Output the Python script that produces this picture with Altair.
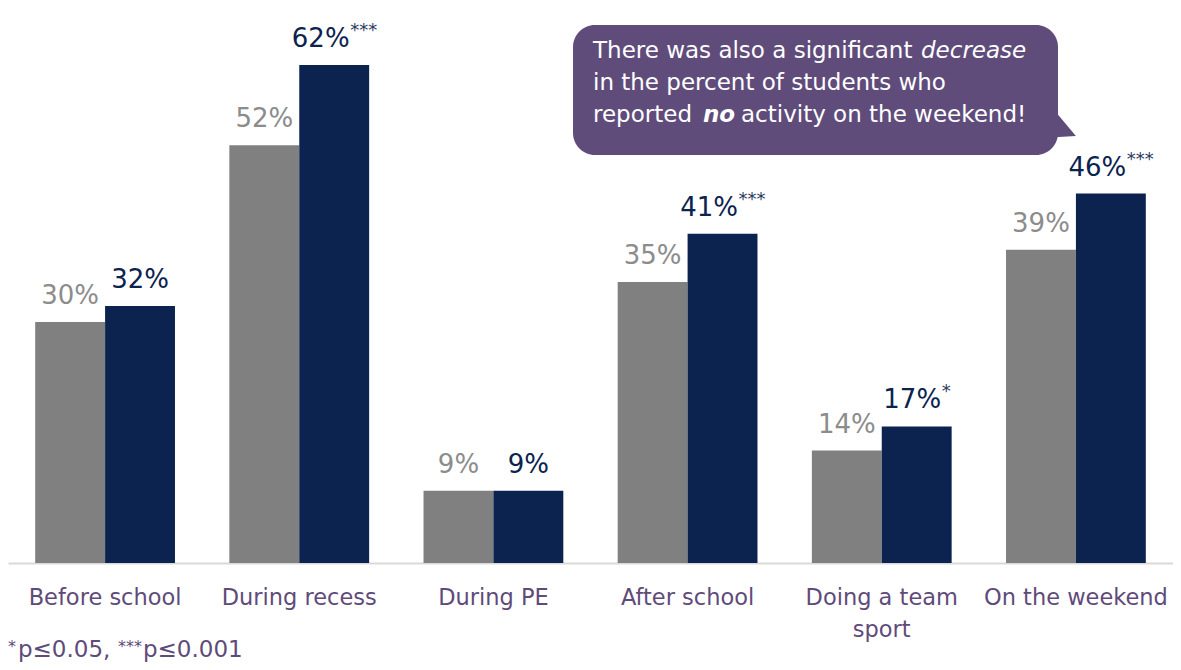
import altair as alt
import pandas as pd

categories = ["Before school", "During recess", "During PE", "After school",
              "Doing a team sport", "On the weekend"]
periods = ["Pre", "Post"]
pre_values = [30, 52, 9, 35, 14, 39]
post_values = [32, 62, 9, 41, 17, 46]
post_sig = ["", "***", "", "***", "*", "***"]

FONT = "DejaVu Sans"
PURPLE = "#5f4b7a"
NAVY = "#0c2350"
GRAY = "#808080"
GRAY_TXT = "#8c8c8c"
STAR = "#2a3a60"

rows = []
for c, a, b, s in zip(categories, pre_values, post_values, post_sig):
    rows.append({"category": c, "period": "Pre", "value": a, "label": f"{a}%", "sig": ""})
    rows.append({"category": c, "period": "Post", "value": b, "label": f"{b}%", "sig": s})
df = pd.DataFrame(rows)

label_expr = ("datum.value == 'Doing a team sport' ? ['Doing a team', 'sport'] : datum.value")

base = alt.Chart(df).encode(
    x=alt.X("category:N", sort=categories,
            scale=alt.Scale(paddingInner=0.28, paddingOuter=0.14),
            axis=alt.Axis(title=None, labelAngle=0, ticks=False, domainColor="#d9d9d9",
                          domainWidth=2, labelColor=PURPLE, labelFont=FONT, labelFontSize=22.5,
                          labelPadding=23, labelLineHeight=32, labelExpr=label_expr,
                          labelBaseline="top", labelLimit=400, labelOverlap=False)),
    xOffset=alt.XOffset("period:N", sort=periods,
                        scale=alt.Scale(paddingInner=0, paddingOuter=0)),
    y=alt.Y("value:Q", scale=alt.Scale(domain=[0, 69.1]), axis=None),
)

bars = base.mark_bar().encode(
    color=alt.Color("period:N", scale=alt.Scale(domain=periods, range=[GRAY, NAVY]), legend=None)
)

label_color = alt.condition(alt.datum.period == "Pre", alt.value(GRAY_TXT), alt.value(NAVY))


def value_labels(sig, dx):
    return base.transform_filter(alt.datum.sig == sig).mark_text(
        dx=dx, dy=-18, baseline="alphabetic", fontSize=26, font=FONT
    ).encode(text="label:N", color=label_color)


def star_labels(sig, dx):
    return base.transform_filter(alt.datum.sig == sig).mark_text(
        align="left", dx=dx, dy=-29, baseline="alphabetic", fontSize=18, font=FONT, color=STAR
    ).encode(text="sig:N")


labels = [value_labels("", 0), value_labels("***", -13.5), value_labels("*", -4.5)]
stars = [star_labels("***", 16), star_labels("*", 25)]

one = pd.DataFrame({"k": [0]})
CALLOUT = "#604c7b"
box = alt.Chart(one).mark_rect(cornerRadius=22, color=CALLOUT).encode(
    x=alt.value(565), x2=alt.value(1050), y=alt.value(17), y2=alt.value(147)
)
tail = alt.Chart(one).mark_point(
    filled=True, shape="M-1,-1 L0.6,0.907 L-1,1 Z", size=1849, color=CALLOUT, opacity=1,
    strokeWidth=0
).encode(x=alt.value(1055), y=alt.value(108.5))


def txt(s, x, y, size=23, color="white", style="normal", weight="normal", align="left"):
    return alt.Chart(one).mark_text(
        text=s, align=align, baseline="alphabetic", font=FONT, fontSize=size,
        fontStyle=style, fontWeight=weight, color=color
    ).encode(x=alt.value(x), y=alt.value(y))


callout_text = [
    txt("There was also a significant", 585, 50),
    txt("decrease", 913, 50, style="italic"),
    txt("in the percent of students who", 585, 82),
    txt("reported", 585, 114),
    txt("no", 695, 114, style="italic", weight="bold"),
    txt("activity on the weekend!", 733, 114),
]

foot = [
    txt("*", 0, 644, size=16, color=PURPLE),
    txt("p≤0.05,", 10, 649, color=PURPLE),
    txt("***", 110, 644, size=16, color=PURPLE),
    txt("p≤0.001", 135, 649, color=PURPLE),
]

chart = alt.layer(bars, *labels, *stars, box, tail, *callout_text, *foot).properties(
    width=1165, height=555,
    padding={"left": 0, "top": 0, "right": 0, "bottom": 99},
    autosize=alt.AutoSizeParams(type="none"),
).configure_view(stroke=None)

chart.save("out.html", embed_options={"renderer": "svg", "actions": False})
